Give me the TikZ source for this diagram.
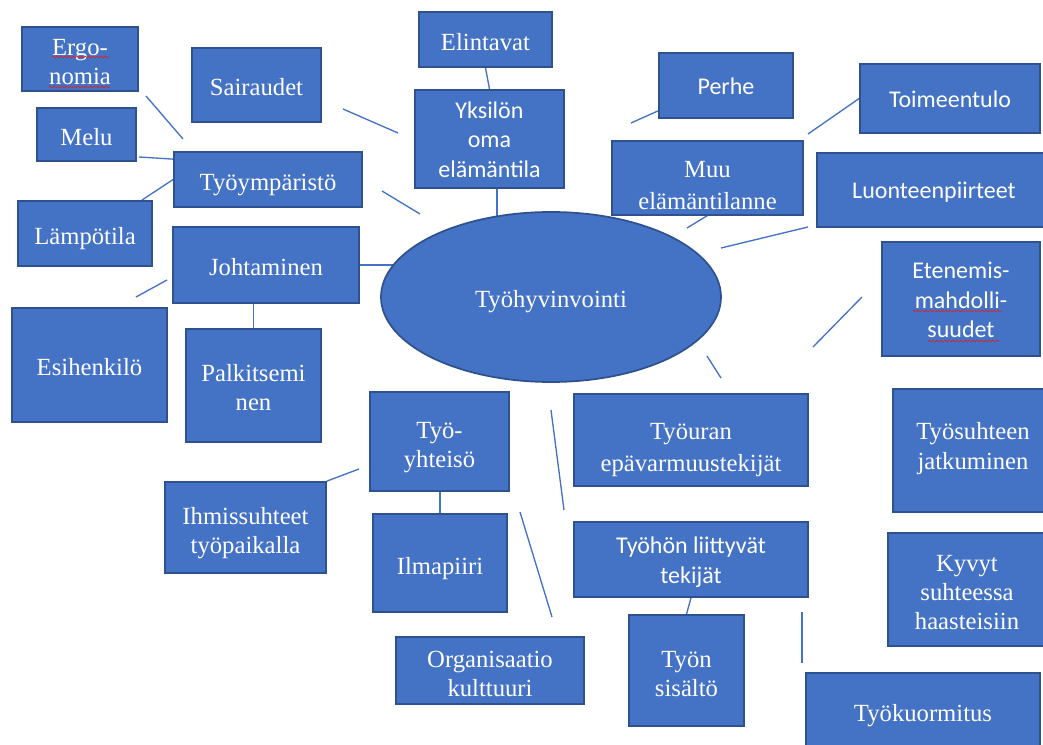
\documentclass[tikz,border=0pt]{standalone}
\usepackage{fontspec}
\setmainfont{Liberation Serif}
\newfontfamily\sansf{Carlito}
\usetikzlibrary{shapes.geometric,decorations.pathmorphing,backgrounds,calc}
\definecolor{fillb}{HTML}{4472C4}
\definecolor{edgeb}{HTML}{2F528F}
\definecolor{lineb}{HTML}{4472C4}
\definecolor{spell}{HTML}{E02020}
\begin{document}
\begin{tikzpicture}[x=0.75pt,y=-0.75pt,
  box/.style={draw=edgeb,fill=fillb,line width=1.3pt,text=white,align=center,inner sep=0pt,
    font=\fontsize{18.5}{21.75}\selectfont,text height=20.5pt,text depth=4pt},
  two/.style={text height=42.25pt},
  three/.style={text height=64pt},
  sans/.style={font=\sansf\fontsize{18}{22.1}\selectfont,text height=17.5pt,text depth=4pt},
  stwo/.style={text height=39.6pt},
  sthree/.style={text height=61.7pt},
  wide/.style={font=\fontsize{18.5}{24}\selectfont,text height=51pt},
  sz/.style 2 args={minimum width=#1*0.75pt,minimum height=#2*0.75pt},
  ell/.style={ellipse,draw=edgeb,fill=fillb,line width=1.3pt,text=white,inner sep=0pt,
    font=\fontsize{18.5}{21.75}\selectfont,text height=20.5pt,text depth=4pt},
  conn/.style={draw=lineb,line width=1pt},
  wavy/.style={draw=spell,line width=0.5pt,decorate,decoration={snake,amplitude=0.7pt,segment length=3pt}}]
\path[use as bounding box,clip] (0,0) rectangle (1043,745);

% centre ellipse
\node[ell,sz={340}{170}] (tyo) at (551,297) {Työhyvinvointi};

% left top
\node[box,two,sz={116}{64}] (ergo) at (80,59) {Ergo-\\nomia};
\node[box,sz={129}{74}] (sair) at (256.5,85) {Sairaudet};
\node[box,sz={99}{53}] (melu) at (86.5,134.5) {Melu};
\node[box,sz={188}{55}] (tyoymp) at (268,179.5) {Työympäristö};
\node[box,sz={134}{65}] (lampo) at (85,233.5) {Lämpötila};
\node[box,sz={186}{76}] (johto) at (266,265) {Johtaminen};
\node[box,sz={155}{114}] (esih) at (89.5,365) {Esihenkilö};
\node[box,two,sz={135}{113}] (palk) at (253.5,385.5) {Palkitsemi\\nen};

% top
\node[box,sz={133}{55}] (elin) at (485.5,39.5) {Elintavat};
\node[box,sans,sthree,sz={149}{98}] (yks) at (489.5,139) {Yksilön\\oma\\elämäntila};
\node[box,sans,sz={134}{65}] (perhe) at (726,85.5) {Perhe};
\node[box,wide,sz={191}{70}] (muu) at (707.5,178) {Muu\\elämäntilanne};

% right
\node[box,sans,sz={180}{69}] (toim) at (950,98.5) {Toimeentulo};
\node[box,sans,sz={234}{74}] (luon) at (934,190) {Luonteenpiirteet};
\node[box,sans,sthree,sz={158}{114}] (eten) at (961,299) {Etenemis-\\mahdolli-\\suudet};
\node[box,two,text depth=14.5pt,sz={160}{123}] (tsuht) at (973,450.5) {Työsuhteen\\jatkuminen};
\node[box,three,sz={158}{113}] (kyv) at (967,589.5) {Kyvyt\\suhteessa\\haasteisiin};
\node[box,text depth=8.5pt,sz={234}{80}] (kuorm) at (923,713) {Työkuormitus};

% bottom
\node[box,two,sz={139}{99}] (tyy) at (439.5,441.5) {Työ-\\yhteisö};
\node[box,two,sz={161}{91}] (ihmis) at (245.5,527.5) {Ihmissuhteet\\työpaikalla};
\node[box,sz={134}{98}] (ilma) at (440,563) {Ilmapiiri};
\node[box,two,sz={188}{67}] (org) at (490,670.5) {Organisaatio\\kulttuuri};
\node[box,wide,sz={234}{92}] (tyour) at (691,440) {Työuran\\epävarmuustekijät};
\node[box,sans,stwo,sz={234}{75}] (tyohon) at (691,559.5) {Työhön liittyvät\\tekijät};
\node[box,two,sz={115}{111}] (sis) at (686.5,670.5) {Työn\\sisältö};

% spell-check underlines
\draw[wavy] (52,57) -- (109,57);
\draw[wavy] (49,87) -- (110,87);
\draw[wavy] (913,311) -- (1002,311);
\draw[wavy] (928,341) -- (999,341);

\begin{pgfonlayer}{background}
\fill[white] (0,0) rectangle (1043,745);
\coordinate (ergoA) at (146,96);
\coordinate (ergoB) at (183,139);
\coordinate (meluA) at (139,157);
\coordinate (sairA) at (343,109);
\coordinate (sairB) at (398,133);
\coordinate (ympA) at (382,191);
\coordinate (ympB) at (420,214);
\coordinate (perheB) at (631,123);
\coordinate (muuB) at (687,228);
\coordinate (toimB) at (808,134);
\coordinate (luonA) at (808,227);
\coordinate (luonB) at (721,248);
\coordinate (etenA) at (862,297);
\coordinate (etenB) at (813,347);
\coordinate (uraA) at (707,356);
\coordinate (uraB) at (721,378);
\coordinate (esihA) at (167,280);
\coordinate (esihB) at (136,297);
\coordinate (ihmisB) at (359,469);
\coordinate (orgA) at (520,512);
\coordinate (orgB) at (552,617);
\coordinate (midA) at (551,410);
\coordinate (midB) at (564,510);
\coordinate (kuormA) at (802,612);
\coordinate (kuormB) at (802,663);

\draw[conn] (ergoA) -- (ergoB);
\draw[conn] (meluA) -- ($(tyoymp.north west)+(0,8)$);
\draw[conn] (tyoymp.west) -- ($(lampo.north east)+(-11,0)$);
\draw[conn] (sairA) -- (sairB);
\draw[conn] (ympA) -- (ympB);
\draw[conn] (elin.south) -- (yks.north);
\draw[conn] ($(yks.south)+(7.5,0)$) -- ($(yks.south)+(7.5,110)$);
\draw[conn] ($(perhe.south west)+(0,-8)$) -- (perheB);
\draw[conn] (muu.south) -- (muuB);
\draw[conn] (toim.west) -- (toimB);
\draw[conn] (luonA) -- (luonB);
\draw[conn] (etenA) -- (etenB);
\draw[conn] (uraA) -- (uraB);
\draw[conn] (johto.east) -- (johto.east -| tyo.center);
\draw[conn] (esihA) -- (esihB);
\draw[conn] (palk.north |- johto.south) -- (palk.north);
\draw[conn] (ihmis.north east) -- (ihmisB);
\draw[conn] (ilma.north |- tyy.south) -- (ilma.north);
\draw[conn] (orgA) -- (orgB);
\draw[conn] (midA) -- (midB);
\draw[conn] (tyohon.south) -- (sis.north);
\draw[conn] (kuormA) -- (kuormB);
\end{pgfonlayer}
\end{tikzpicture}
\end{document}
